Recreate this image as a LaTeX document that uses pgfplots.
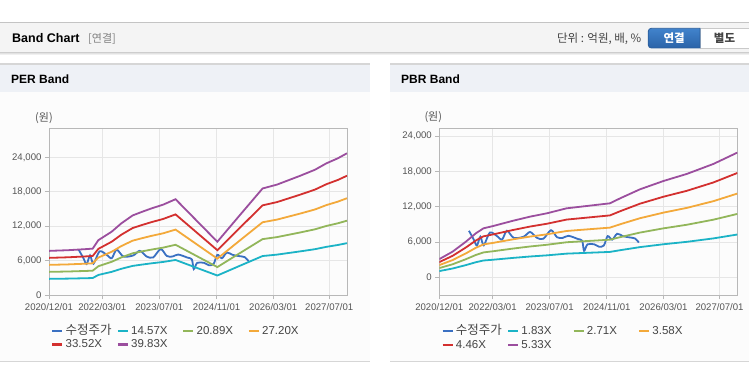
\documentclass[border=0pt]{standalone}
\usepackage{fontspec}
\setmainfont{Liberation Sans}
\newfontfamily\kr{Noto Sans CJK KR}
\usepackage{graphicx}
\usepackage{pgfplots}
\usepackage{pgfplotstable}
\pgfplotsset{compat=1.18}

\definecolor{hdrbg}{HTML}{F4F4F4}
\definecolor{hdrline}{HTML}{C4C4C4}
\definecolor{shd1}{HTML}{CDCDCD}
\definecolor{shd2}{HTML}{E2E2E2}
\definecolor{shd3}{HTML}{F0F0F0}
\definecolor{panelhdr}{HTML}{EEF1F6}
\definecolor{panelbg}{HTML}{FCFCFC}
\definecolor{panelline}{HTML}{D6D6D6}
\definecolor{btntop}{HTML}{4183CC}
\definecolor{btnbot}{HTML}{2A63A8}
\definecolor{btnborder}{HTML}{2B5E9C}
\definecolor{btn2border}{HTML}{C9C9C9}
\definecolor{axisgray}{HTML}{B8B8B8}
\definecolor{gridgray}{HTML}{E6E6E6}
\definecolor{labelgray}{HTML}{555555}
\definecolor{textgray}{HTML}{444444}
\definecolor{priceblue}{HTML}{3A70C2}
\definecolor{cyanb}{HTML}{1BB3C6}
\definecolor{greenb}{HTML}{92B65A}
\definecolor{orangeb}{HTML}{F3A93A}
\definecolor{redb}{HTML}{D3302F}
\definecolor{purpleb}{HTML}{9B4E9E}

\pgfplotstableread{
m c1 c2 c3 c4 c5
0 2812 4032 5250 6469 7687
5 2856 4094 5331 6570 7807
10 2929 4199 5467 6738 8006
11.5 2958 4241 5522 6805 8085
13 3497 5014 6528 8045 9559
16.5 4036 5787 7534 9285 11033
19 4560 6539 8514 10492 12467
22 5070 7270 9466 11665 13861
24.5 5303 7604 9901 12201 14498
27 5522 7917 10309 12704 15096
30 5755 8252 10744 13240 15733
33.3 6105 8753 11397 14045 16689
38.8 4750 6810 8867 10928 12985
44.3 3395 4867 6338 7810 9280
50 5027 7207 9384 11564 13741
56.2 6790 9735 12675 15620 18561
60 7037 10090 13138 16190 19238
66 7591 10884 14171 17464 20751
70 7984 11448 14906 18369 21827
73 8392 12033 15667 19308 22942
76 8713 12492 16266 20045 23818
78.42 9033 12952 16864 20782 24695
}\pertable

\pgfplotstableread{
m c1 c2 c3 c4 c5
0 1061 1572 2076 2587 3091
3.5 1497 2217 2928 3648 4360
7 2079 3079 4067 5067 6055
9.6 2562 3794 5012 6244 7462
11.6 2855 4228 5585 6958 8315
14.2 2992 4431 5853 7292 8715
19.5 3303 4892 6462 8050 9621
23.9 3537 5238 6920 8621 10303
28.3 3731 5526 7300 9094 10868
33.5 4022 5957 7869 9803 11715
38.8 4158 6157 8134 10133 12110
44.9 4313 6387 8438 10512 12563
47.6 4606 6821 9011 11226 13416
52.8 5129 7596 10035 12501 14940
59 5616 8317 10987 13688 16358
65.1 6024 8921 11785 14682 17546
72.1 6606 9783 12924 16101 19241
78.42 7269 10764 14220 17715 21171
}\pbrtable

\pgfplotstableread{
m p
7.8 7900
9.0 6500
9.9 5400
10.8 6900
11.7 5450
13.3 7600
15.2 7000
16.5 6400
17.8 7900
19.6 6700
22.2 6900
23.9 7700
25.7 6700
27.4 6550
29.4 8000
31.0 6800
32.5 6700
34.0 7050
36.5 6500
37.6 6200
38.1 4500
39.0 5600
40.8 5600
42.0 5200
43.3 5400
44.3 7000
45.5 6400
46.8 7400
48.3 7000
49.8 6800
51.5 6600
52.5 5900
}\pricetable

\pgfplotsset{
  legend image code/.code={\draw[#1, line width=2.5pt, line cap=butt] (0pt,0pt) -- (10pt,0pt);},
  bandaxis/.style={
    scale only axis, width=298pt,
    xmin=0, xmax=78.42,
    xtick={0,14.03,29.03,44.1,59,73.75},
    xticklabels={2020/12/01,2022/03/01,2023/07/01,2024/11/01,2026/03/01,2027/07/01},
    ytick={0,6000,12000,18000,24000},
    axis line style={draw=axisgray, line width=0.9pt},
    xmajorgrids, ymajorgrids,
    major grid style={draw=gridgray, line width=0.8pt},
    tick style={draw=axisgray, line width=0.8pt},
    major tick length=4pt, tick align=outside, tick pos=left,
    ticklabel style={font=\fontsize{9.6}{10}\selectfont, text=labelgray},
    xticklabel style={yshift=-1.5pt},
    /pgf/number format/assume math mode=true,
    /pgf/number format/1000 sep={,},
    scaled y ticks=false,
    legend columns=4, legend cell align=left,
    legend style={draw=none, fill=none, inner sep=0pt, column sep=0pt, row sep=3.2pt,
      font=\fontsize{11.5}{11.5}\selectfont,
      nodes={inner xsep=2pt, inner ysep=0pt, text height=8.5pt, text depth=2pt, text=textgray}},
    every axis plot/.append style={line width=1.8pt},
  }
}

\begin{document}
\begin{tikzpicture}
\begin{scope}[x=1pt,y=1pt]
\path[use as bounding box] (0,0) rectangle (749,364);
\fill[white] (0,0) rectangle (749,364);
% header bar
\fill[hdrbg] (0,311.5) rectangle (749,341.3);
\draw[line width=1pt, hdrline] (0,341.3) -- (749,341.3);
\draw[line width=1pt, shd1] (0,311.3) -- (749,311.3);
\draw[line width=1pt, shd2] (0,310.3) -- (749,310.3);
\draw[line width=1pt, shd3] (0,309.3) -- (749,309.3);
\node[anchor=west, inner sep=0pt, text=black] at (12,325.7) {\fontsize{12.5}{13}\selectfont\bfseries Band Chart};
\node[anchor=west, inner sep=0pt, text=gray] at (88,325.5) {\fontsize{11}{11}\selectfont\kr [연결]};
\node[anchor=east, inner sep=0pt, text=textgray] at (641.5,325) {\fontsize{11.5}{12}\selectfont\kr 단위 : 억원, 배, \%};
% buttons
\filldraw[fill=white, draw=btn2border, line width=0.8pt] (700,316) rectangle (752,335.7);
\shade[top color=btntop, bottom color=btnbot, draw=btnborder, line width=0.8pt]
  [rounded corners=3pt] (700,335.7) -- (648.3,335.7) -- (648.3,316) [sharp corners] -- (700,316) -- cycle;
\node[text=white, inner sep=0pt] at (674.2,325.8) {\fontsize{11.5}{12}\selectfont\kr\bfseries 연결};
\node[text=textgray, inner sep=0pt] at (724.5,325.8) {\fontsize{11.5}{12}\selectfont\kr\bfseries 별도};
% panels
\fill[panelbg] (0,2.3) rectangle (370,271.5);
\fill[panelhdr] (0,271.5) rectangle (370,300);
\draw[panelline, line width=1.5pt] (0,300) -- (370,300);
\draw[panelline, line width=1.5pt] (0,2.3) -- (370,2.3);
\fill[panelbg] (390,2.3) rectangle (749,271.5);
\fill[panelhdr] (390,271.5) rectangle (749,300);
\draw[panelline, line width=1.5pt] (390,300) -- (749,300);
\draw[panelline, line width=1.5pt] (390,2.3) -- (749,2.3);
\node[anchor=west, inner sep=0pt] at (11,284.5) {\fontsize{12}{12}\selectfont\bfseries PER Band};
\node[anchor=west, inner sep=0pt] at (401,284.5) {\fontsize{12}{12}\selectfont\bfseries PBR Band};
\node[text=labelgray, inner sep=0pt] at (44,245.7) {\fontsize{11}{11}\selectfont\kr (원)};
\node[text=labelgray, inner sep=0pt] at (433.3,246.5) {\fontsize{11}{11}\selectfont\kr (원)};
\end{scope}

\begin{axis}[bandaxis, at={(49pt,69pt)}, anchor=south west, height=167pt,
  ymin=0, ymax=29100,
  legend style={at={(0.0065,-0.183)}, anchor=north west}]
\addplot[color=priceblue, smooth, tension=0.5] table[x=m, y=p] {\pricetable};
\addlegendentry{\makebox[49pt][l]{\kr\fontsize{12.5}{12.5}\selectfont 수정주가}}
\addplot[color=cyanb] table[x=m, y=c1] {\pertable};
\addlegendentry{\makebox[49pt][l]{14.57X}}
\addplot[color=greenb] table[x=m, y=c2] {\pertable};
\addlegendentry{\makebox[49pt][l]{20.89X}}
\addplot[color=orangeb] table[x=m, y=c3] {\pertable};
\addlegendentry{\makebox[49pt][l]{27.20X}}
\addplot[color=redb] table[x=m, y=c4] {\pertable};
\addlegendentry{\makebox[49pt][l]{33.52X}}
\addplot[color=purpleb] table[x=m, y=c5] {\pertable};
\addlegendentry{\makebox[49pt][l]{39.83X}}
\end{axis}

\begin{axis}[bandaxis, at={(439.3pt,69pt)}, anchor=south west, height=166.7pt,
  ymin=-3000, ymax=25300,
  legend style={at={(0.0065,-0.184)}, anchor=north west}]
\addplot[color=priceblue, smooth, tension=0.5] table[x=m, y=p] {\pricetable};
\addlegendentry{\makebox[49pt][l]{\kr\fontsize{12.5}{12.5}\selectfont 수정주가}}
\addplot[color=cyanb] table[x=m, y=c1] {\pbrtable};
\addlegendentry{\makebox[49pt][l]{1.83X}}
\addplot[color=greenb] table[x=m, y=c2] {\pbrtable};
\addlegendentry{\makebox[49pt][l]{2.71X}}
\addplot[color=orangeb] table[x=m, y=c3] {\pbrtable};
\addlegendentry{\makebox[49pt][l]{3.58X}}
\addplot[color=redb] table[x=m, y=c4] {\pbrtable};
\addlegendentry{\makebox[49pt][l]{4.46X}}
\addplot[color=purpleb] table[x=m, y=c5] {\pbrtable};
\addlegendentry{\makebox[49pt][l]{5.33X}}
\end{axis}
\end{tikzpicture}
\end{document}
